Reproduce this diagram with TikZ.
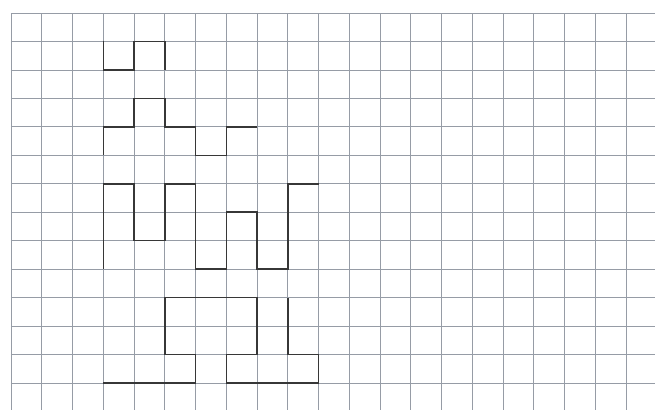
\documentclass[tikz,border=0pt]{standalone}
\begin{document}
\begin{tikzpicture}[x={(30.75pt,0)},y={(0,-28.46pt)},
  gridline/.style={draw={rgb,255:red,150;green,156;blue,166},line width=0.7pt},
  figline/.style={draw={rgb,255:red,55;green,55;blue,55},line width=1.5pt,line join=miter,line cap=butt}]
\useasboundingbox[fill=white] (-0.3577,-0.4568) rectangle (20.943,13.949);
% grid
\foreach \i in {0,...,20} {\draw[gridline] (\i,0) -- (\i,13.949);}
\foreach \j in {0,...,13} {\draw[gridline] (0,\j) -- (20.943,\j);}
% figure 1
\draw[figline] (3,1) -- (3,2) -- (4,2) -- (4,1) -- (5,1) -- (5,2);
% figure 2
\draw[figline] (3,5) -- (3,4) -- (4,4) -- (4,3) -- (5,3) -- (5,4) -- (6,4) -- (6,5) -- (7,5) -- (7,4) -- (8,4);
% figure 3
\draw[figline] (3,9) -- (3,6) -- (4,6) -- (4,8) -- (5,8) -- (5,6) -- (6,6) -- (6,9) -- (7,9) -- (7,7) -- (8,7) -- (8,9) -- (9,9) -- (9,6) -- (10,6);
% figure 4
\draw[figline] (3,13) -- (6,13) -- (6,12) -- (5,12) -- (5,10) -- (8,10) -- (8,12) -- (7,12) -- (7,13) -- (10,13) -- (10,12) -- (9,12) -- (9,10);
\end{tikzpicture}
\end{document}
